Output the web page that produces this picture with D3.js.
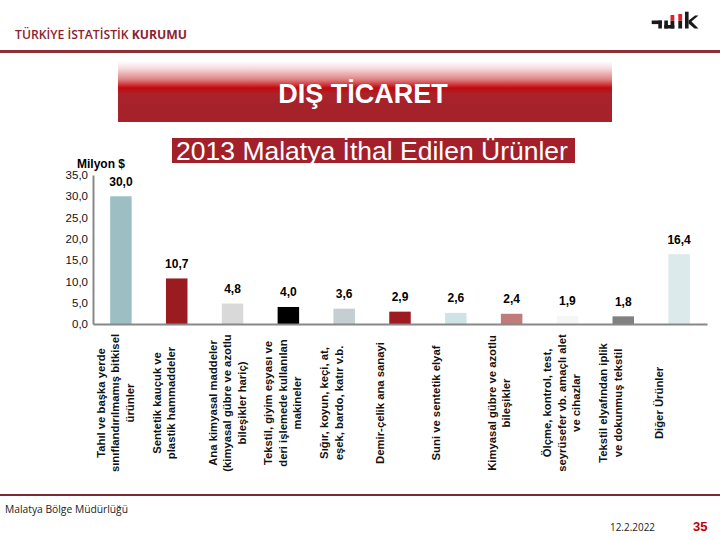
<!DOCTYPE html>
<html><head><meta charset="utf-8">
<script src="https://cdn.jsdelivr.net/npm/d3@7"></script>
<style>body{margin:0;background:#fff} svg{display:block}</style>
</head><body><svg id="c" width="720" height="540"></svg>
<script>
// ---- data ----
const categories = [
  "Tahıl ve başka yerde\nsınıflandırılmamış bitkisel\nürünler",
  "Sentetik kauçuk ve\nplastik hammaddeler",
  "Ana kimyasal maddeler\n(kimyasal gübre ve azotlu\nbileşikler hariç)",
  "Tekstil, giyim eşyası ve\nderi işlemede kullanılan\nmakineler",
  "Sığır, koyun, keçi, at,\neşek, bardo, katır v.b.",
  "Demir-çelik ana sanayi",
  "Suni ve sentetik elyaf",
  "Kimyasal gübre ve azotlu\nbileşikler",
  "Ölçme, kontrol, test,\nseyrüsefer vb. amaçlı alet\nve cihazlar",
  "Tekstil elyafından iplik\nve dokunmuş tekstil",
  "Diğer Ürünler"
];
const values = [30.0, 10.7, 4.8, 4.0, 3.6, 2.9, 2.6, 2.4, 1.9, 1.8, 16.4];
const yTicks = [0, 5, 10, 15, 20, 25, 30, 35];
const barColors = ["#9DBFC4", "#9B1C20", "#D9D9D9", "#000000", "#C3CFD2", "#9E1B22",
                   "#CDE3E6", "#C07C7C", "#F6F6F6", "#808080", "#DDEAEC"];
const pageTitle = "DIŞ TİCARET";
const chartTitle = "2013 Malatya İthal Edilen Ürünler";
const unitLabel = "Milyon $";

const fmt = v => d3.format(".1f")(v).replace(".", ",");
const svg = d3.select("#c");
const font = "'Liberation Sans', Arial, sans-serif";

// ---- header ----
svg.append("text").attr("x", 15).attr("y", 39)
  .attr("font-family", "'Open Sans', sans-serif").attr("font-size", 12.5)
  .attr("fill", "#8B2332").attr("textLength", 172).attr("lengthAdjust", "spacingAndGlyphs")
  .call(t => {
    t.append("tspan").attr("font-weight", 600).text("TÜRKİYE İSTATİSTİK ");
    t.append("tspan").attr("font-weight", 700).text("KURUMU");
  });
svg.append("rect").attr("x", 0).attr("y", 50).attr("width", 720).attr("height", 3).attr("fill", "#8E2F35");

// logo
const logo = svg.append("g");
const blk = "#1a1a1a", red = "#E0202A";
[[651.7,20.5,10,3.6,blk],[658.3,20.5,3.6,8,blk],
 [664.3,20.5,3.6,8,blk],[664.3,25,10,3.5,blk],[670.5,20.5,3.8,8,blk],[670.5,15,3.8,5.5,red],
 [678.3,20.5,3.8,8,blk],[678.3,14,3.8,6.5,red],
 [685,11.7,3.6,16.8,blk]].forEach(r =>
  logo.append("rect").attr("x", r[0]).attr("y", r[1]).attr("width", r[2]).attr("height", r[3]).attr("fill", r[4]));
logo.append("path").attr("d", "M688.6 20.5 L695 15.5 L698.5 15.5 L691.5 21.5 L698.5 28.5 L694.5 28.5 L688.6 23.5 Z").attr("fill", blk);

// banner
const defs = svg.append("defs");
const g1 = defs.append("linearGradient").attr("id", "ban").attr("x1", 0).attr("y1", 0).attr("x2", 0).attr("y2", 1);
[[0,"#ffffff"],[0.12,"#f6dcdd"],[0.3,"#e08486"],[0.44,"#c20a0e"],[0.5,"#b8161c"],[0.53,"#a8232b"],[1,"#a5222b"]]
  .forEach(s => g1.append("stop").attr("offset", s[0]).attr("stop-color", s[1]));
svg.append("rect").attr("x", 118).attr("y", 61).attr("width", 494).attr("height", 61).attr("fill", "url(#ban)");
svg.append("text").attr("x", 363).attr("y", 103).attr("text-anchor", "middle")
  .attr("font-family", font).attr("font-weight", "bold").attr("font-size", 27)
  .attr("fill", "#fff").text(pageTitle);

// subtitle
svg.append("rect").attr("x", 172).attr("y", 138).attr("width", 403).attr("height", 25).attr("fill", "#A3202A");
svg.append("text").attr("x", 372).attr("y", 160).attr("text-anchor", "middle")
  .attr("font-family", font).attr("font-size", 26.5).attr("fill", "#fff").text(chartTitle);

// ---- chart ----
const y = d3.scaleLinear().domain([0, 35]).range([324, 175]);
const x = d3.scaleBand().domain(d3.range(values.length)).range([93, 707])
  .paddingInner(0.615).paddingOuter(0.3075);

svg.append("text").attr("x", 77).attr("y", 168)
  .attr("font-family", font).attr("font-weight", "bold").attr("font-size", 12)
  .attr("fill", "#000").text(unitLabel);

const yAxis = svg.append("g").attr("transform", "translate(93,0)")
  .call(d3.axisLeft(y).tickValues(yTicks).tickSize(0).tickPadding(5).tickFormat(fmt));
yAxis.select(".domain").attr("stroke", "#888").attr("stroke-width", 2);
yAxis.selectAll("text").attr("font-family", font).attr("font-size", 11.5).attr("fill", "#111");

svg.append("g").selectAll("rect").data(values).join("rect")
  .attr("x", (d, i) => x(i)).attr("width", x.bandwidth())
  .attr("y", d => y(d)).attr("height", d => y(0) - y(d))
  .attr("fill", (d, i) => barColors[i]);

const xAxis = svg.append("g").attr("transform", "translate(0,324)")
  .call(d3.axisBottom(x).tickSize(0).tickFormat(""));
xAxis.select(".domain").attr("stroke", "#888").attr("stroke-width", 2);

svg.append("g").selectAll("text").data(values).join("text")
  .attr("x", (d, i) => x(i) + x.bandwidth() / 2).attr("y", d => y(d) - 10.5)
  .attr("text-anchor", "middle").attr("font-family", font).attr("font-weight", "bold")
  .attr("font-size", 12).attr("fill", "#000").text(fmt);

// category labels (rotated)
const lab = svg.append("g").selectAll("text").data(categories).join("text")
  .attr("transform", (d, i) => `translate(${x(i) + x.bandwidth() / 2 - 16},403) rotate(-90)`)
  .attr("text-anchor", "middle").attr("font-family", font).attr("font-weight", "bold")
  .attr("font-size", 11.3).attr("fill", "#111");
lab.each(function (d) {
  d.split("\n").forEach((ln, k) =>
    d3.select(this).append("tspan").attr("x", 0).attr("y", k * 14.5).text(ln));
});

// ---- footer ----
svg.append("rect").attr("x", 0).attr("y", 494).attr("width", 720).attr("height", 2).attr("fill", "#7B2B35");
svg.append("text").attr("x", 5).attr("y", 513).attr("font-family", "'Open Sans', sans-serif")
  .attr("font-size", 11).attr("fill", "#222").attr("textLength", 123).attr("lengthAdjust", "spacingAndGlyphs")
  .text("Malatya Bölge Müdürlüğü");
svg.append("text").attr("x", 610).attr("y", 531).attr("font-family", "'Open Sans', sans-serif")
  .attr("font-size", 11).attr("fill", "#222").attr("textLength", 45).attr("lengthAdjust", "spacingAndGlyphs")
  .text("12.2.2022");
svg.append("text").attr("x", 693).attr("y", 531).attr("font-family", font).attr("font-weight", "bold")
  .attr("font-size", 13).attr("fill", "#C00000").text("35");
</script></body></html>
